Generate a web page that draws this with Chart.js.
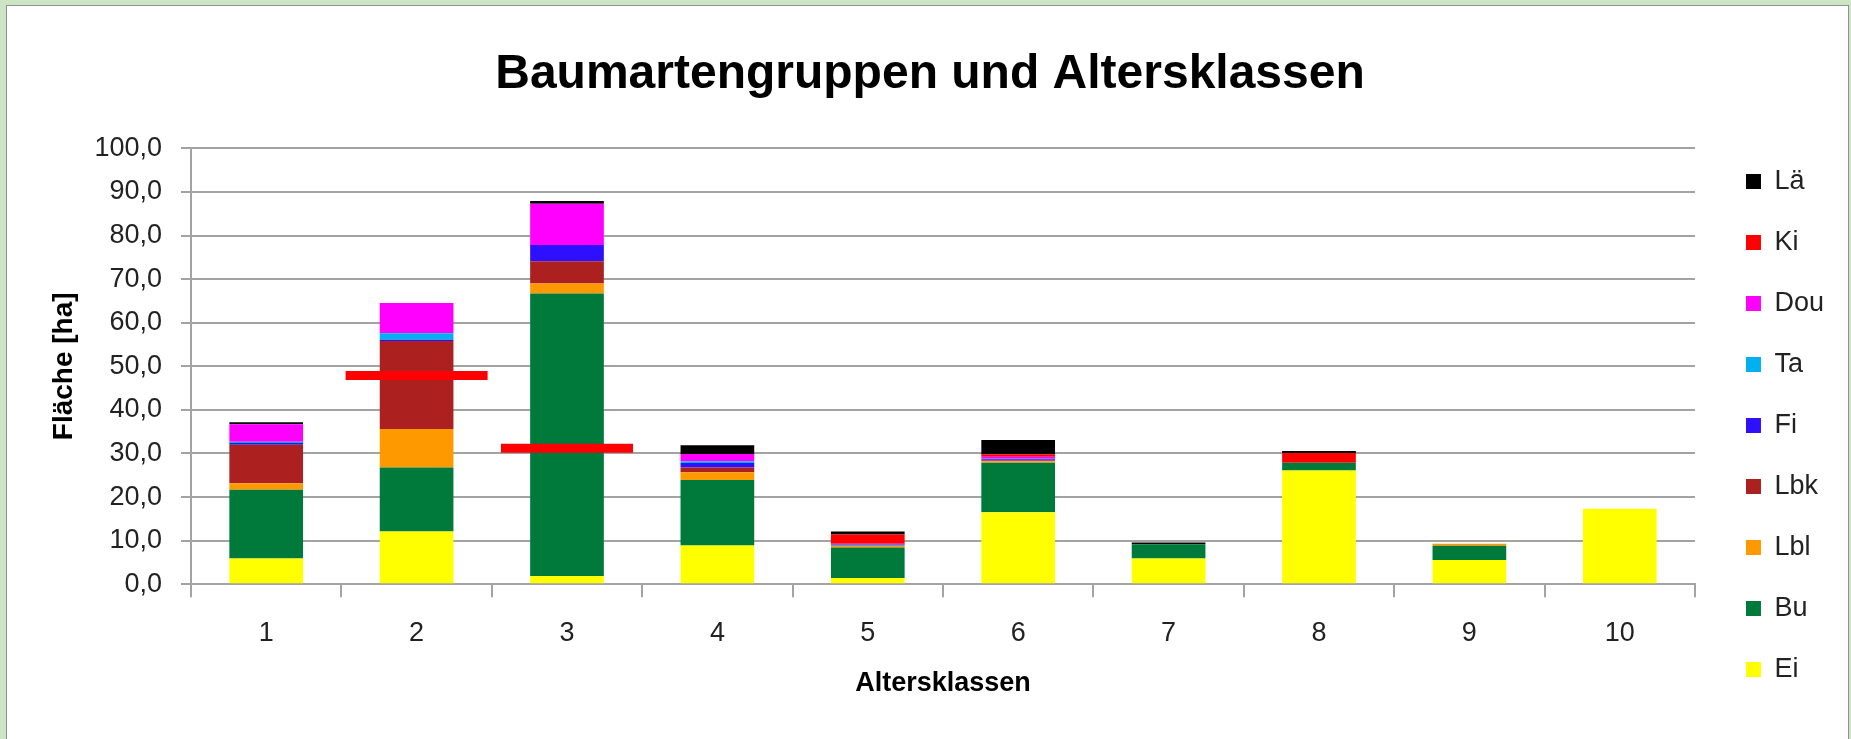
<!DOCTYPE html>
<html>
<head>
<meta charset="utf-8">
<script src="https://cdn.jsdelivr.net/npm/chart.js@4.4.1/dist/chart.umd.min.js"></script>
<style>
  html, body { margin: 0; padding: 0; background: #cee5c5; overflow: hidden; }
  #rahmen { position: absolute; left: 6px; top: 5px; width: 1843px; height: 740px; background: #fff; border: 1px solid #8f8f8f; box-sizing: border-box; }
  #grafico { position: absolute; left: 0; top: 0; }
</style>
</head>
<body>
<div id="rahmen"></div>
<canvas id="grafico" width="1851" height="739" style="width:1851px;height:739px"></canvas>
<script>
// Altersklassen und Flächen je Baumartengruppe (ha)
const klassen = ["1", "2", "3", "4", "5", "6", "7", "8", "9", "10"];
const ei  = [5.9, 12.1, 1.9, 8.9, 1.45, 16.55, 5.9, 26.1, 5.55, 17.3];
const bu  = [15.8, 14.7, 64.8, 15.0, 7.0, 11.3, 3.3, 1.8, 3.3, 0];
const lbl = [1.5, 8.8, 2.3, 1.8, 0.4, 0.35, 0, 0, 0.45, 0];
const lbk = [8.8, 20.2, 5.1, 1.1, 0.05, 0.2, 0, 0, 0, 0];
const fi  = [0.4, 0.3, 3.7, 1.0, 0.2, 0.3, 0, 0, 0, 0];
const ta  = [0.3, 1.5, 0, 0.4, 0.15, 0.1, 0, 0, 0, 0];
const dou = [4.0, 6.9, 9.5, 1.7, 0.05, 0.45, 0, 0, 0, 0];
const ki  = [0, 0, 0, 0, 2.1, 0.55, 0, 2.2, 0, 0];
const lae = [0.45, 0, 0.6, 2.0, 0.7, 3.3, 0.4, 0.45, 0, 0];
// rote Markierungen
const markierung = [null, 47.9, 31.2, null, null, null, null, null, null, null];
// y-Achse
const yMin = 0;
const yMax = 100;
const yStep = 10;

const schrift = "'Liberation Sans', Arial, sans-serif";
const grau = "#a3a3a3";

const ctx = document.getElementById("grafico");

new Chart(ctx, {
  type: "bar",
  data: {
    labels: klassen,
    datasets: [
      { label: "Ei", data: ei, backgroundColor: "#ffff00" },
      { label: "Bu", data: bu, backgroundColor: "#007a3a" },
      { label: "Lbl", data: lbl, backgroundColor: "#ff9900" },
      { label: "Lbk", data: lbk, backgroundColor: "#ac2020" },
      { label: "Fi", data: fi, backgroundColor: "#2e10ff" },
      { label: "Ta", data: ta, backgroundColor: "#00b0f0" },
      { label: "Dou", data: dou, backgroundColor: "#ff00ff" },
      { label: "Ki", data: ki, backgroundColor: "#ff0000" },
      { label: "Lä", data: lae, backgroundColor: "#000000" },
      {
        type: "line",
        label: "Markierung",
        data: markierung,
        yAxisID: "y",
        stack: "markierung",
        order: -1,
        showLine: false,
        pointStyle: "line",
        pointRadius: [0, 71, 66, 0, 0, 0, 0, 0, 0, 0],
        pointHoverRadius: [0, 71, 66, 0, 0, 0, 0, 0, 0, 0],
        pointBorderWidth: 9,
        pointBorderColor: "#ff0000",
        pointBackgroundColor: "#ff0000",
      },
    ],
  },
  options: {
    responsive: false,
    animation: false,
    devicePixelRatio: 1,
    barPercentage: 0.49,
    categoryPercentage: 1,
    layout: {
      padding: { left: 26, right: 17, top: 0, bottom: 0 },
    },
    plugins: {
      title: {
        display: true,
        text: "Baumartengruppen und Altersklassen",
        color: "#000",
        font: { family: schrift, size: 48, weight: "bold" },
        padding: { top: 45.6, bottom: 45.1 },
      },
      legend: {
        position: "right",
        align: "start",
        reverse: true,
        title: {
          display: true,
          text: "",
          font: { size: 10 },
          padding: { top: 122, bottom: 0 },
        },
        labels: {
          boxWidth: 15,
          boxHeight: 15,
          padding: 34,
          color: "#222",
          font: { family: schrift, size: 27 },
          filter: function (item) {
            return item.text !== "Markierung";
          },
        },
      },
      tooltip: { enabled: false },
    },
    scales: {
      x: {
        stacked: true,
        grid: {
          offset: true,
          drawOnChartArea: false,
          drawTicks: true,
          tickLength: 13,
          color: grau,
          lineWidth: 2,
        },
        border: { color: grau, width: 2 },
        ticks: {
          color: "#222",
          font: { family: schrift, size: 27 },
          padding: 20.5,
        },
        title: {
          display: true,
          text: "Altersklassen",
          color: "#000",
          font: { family: schrift, size: 27, weight: "bold" },
          padding: { top: 10, bottom: 39.3 },
        },
        afterFit: function (s) {
          s.height = 154.7;
        },
      },
      y: {
        stacked: true,
        min: yMin,
        max: yMax,
        ticks: {
          stepSize: yStep,
          color: "#222",
          font: { family: schrift, size: 27 },
          padding: 19,
          callback: function (v) {
            return v.toFixed(1).replace(".", ",");
          },
        },
        grid: { color: grau, lineWidth: 2, tickLength: 10 },
        border: { color: grau, width: 2 },
        title: {
          display: true,
          text: "Fläche [ha]",
          color: "#000",
          font: { family: schrift, size: 28, weight: "bold" },
          padding: { top: 21.7, bottom: 0 },
        },
        afterFit: function (s) {
          s.width = 165;
        },
      },
      rand: {
        type: "linear",
        position: "right",
        grid: { display: false },
        border: { display: false },
        ticks: { display: false },
        afterFit: function (s) {
          s.width = 17;
        },
      },
    },
  },
});
</script>
</body>
</html>
